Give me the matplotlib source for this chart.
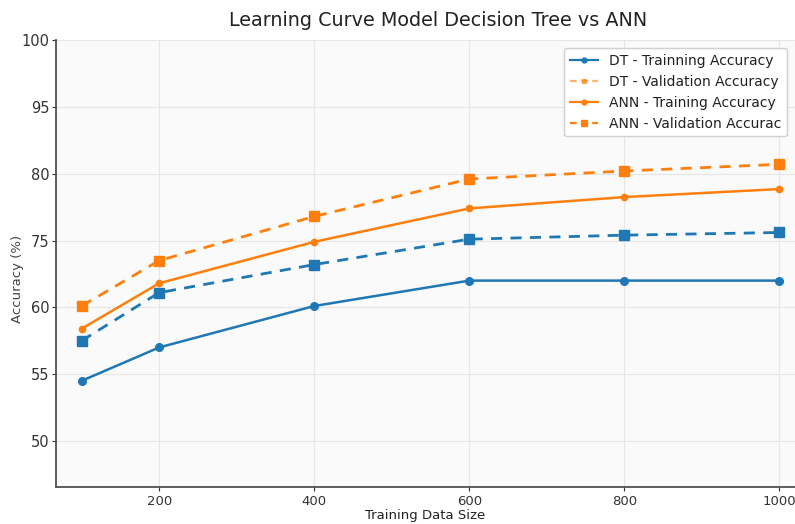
import matplotlib
matplotlib.use("Agg")
import matplotlib.pyplot as plt
from matplotlib.lines import Line2D

# Data (y values are in the axis' linear units; tick labels below are as printed)
train_sizes = [100, 200, 400, 600, 800, 1000]
dt_train = [54.5, 57.0, 60.1, 62.0, 62.0, 62.0]
dt_val = [57.5, 61.1, 63.2, 65.1, 65.4, 65.6]
ann_train = [58.4, 61.8, 64.9, 67.4, 68.25, 68.85]
ann_val = [60.1, 63.5, 66.8, 69.6, 70.2, 70.7]

ytick_pos = [50, 55, 60, 65, 70, 75, 80]
ytick_labels = ["50", "55", "60", "75", "80", "95", "100"]
xtick_pos = [200, 400, 600, 800, 1000]

legend_labels = ["DT - Trainning Accuracy", "DT - Validation Accuracy",
                 "ANN - Training Accuracy", "ANN - Validation Accurac"]

blue = "#1f77b4"
orange = "#ff7f0e"

fig = plt.figure(figsize=(7.95, 5.24), dpi=100)
W, H = 795, 524
left_px, right_px, top_px, bot_px = 56, 795, 40, 487
ax = fig.add_axes([left_px / W, (H - bot_px) / H, (right_px - left_px) / W, (bot_px - top_px) / H])
ax.set_facecolor("#fafafa")

ax.plot(train_sizes, dt_train, color=blue, lw=1.8, marker="o", ms=5.5, zorder=3)
ax.plot(train_sizes, dt_val, color=blue, lw=2.0, ls=(0, (4, 3)), marker="s", ms=6.5, zorder=3)
ax.plot(train_sizes, ann_train, color=orange, lw=1.8, marker="o", ms=4.5, zorder=3)
ax.plot(train_sizes, ann_val, color=orange, lw=2.0, ls=(0, (4, 3)), marker="s", ms=6.5, zorder=3)

ax.set_xlim(67, 1020)
ax.set_ylim(46.56, 80)
ax.set_xticks(xtick_pos)
ax.set_yticks(ytick_pos)
ax.set_yticklabels(ytick_labels)
ax.tick_params(axis="x", labelsize=9.5, colors="#333333", length=3, width=0.8, pad=2.5)
ax.tick_params(axis="y", labelsize=10.5, colors="#333333", length=3, width=0.8, pad=1.5)

ax.grid(True, color="#e6e6e6", lw=0.8)
ax.set_axisbelow(True)
for s in ["top", "right"]:
    ax.spines[s].set_visible(False)
for s in ["left", "bottom"]:
    ax.spines[s].set_color("#505050")
    ax.spines[s].set_linewidth(1.3)

ax.set_title("Learning Curve Model Decision Tree vs ANN", fontsize=13.8, color="#222222",
             pad=10, x=0.517)
ax.set_xlabel("Training Data Size", fontsize=9.5, color="#222222", labelpad=1)
ax.set_ylabel("Accuracy (%)", fontsize=9.5, color="#444444")
ax.yaxis.set_label_coords(-0.043, 0.465)

handles = [
    Line2D([], [], color=blue, lw=1.6, marker="o", ms=3.5),
    Line2D([], [], color=orange, lw=1.6, ls=(0, (3, 2)), marker="s", ms=3, alpha=0.6),
    Line2D([], [], color=orange, lw=1.6, marker="o", ms=3.5),
    Line2D([], [], color=orange, lw=1.6, ls=(0, (3, 2)), marker="s", ms=5),
]
leg = ax.legend(handles, legend_labels, loc="upper right", fontsize=10,
                frameon=True, framealpha=1, edgecolor="#d0d0d0",
                borderaxespad=0.6, handlelength=2.0, labelspacing=0.5)
for t in leg.get_texts():
    t.set_color("#222222")

fig.savefig("out.png", dpi=100)
